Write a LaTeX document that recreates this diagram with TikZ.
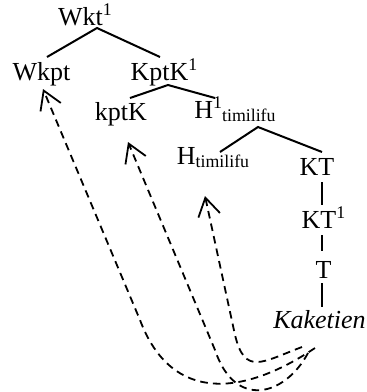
\documentclass[tikz,border=0pt]{standalone}
\usepackage{fontspec}
\setmainfont{Liberation Serif}
\usepackage{tikz}
\usetikzlibrary{arrows.meta}
\newcommand{\sups}[1]{\raisebox{4.9pt}{\fontsize{8.9pt}{10pt}\selectfont #1}}
\newcommand{\subs}[1]{\raisebox{-1.6pt}{\fontsize{8.9pt}{10pt}\selectfont #1}}
\begin{document}
\begin{tikzpicture}[x=0.5pt, y=-0.5pt,
  lbl/.style={inner sep=0pt, anchor=base, font=\fontsize{13pt}{15pt}\selectfont},
  br/.style={line width=1pt},
  mv/.style={line width=0.9pt, dash pattern=on 3.8pt off 2.6pt, -{Straight Barb[length=9pt, width=11pt]}}
]
\useasboundingbox (0,0) rectangle (366,392);
% tree
\node[lbl] (Wkt) at (85,25) {Wkt\sups{1}};
\node[lbl] (Wkpt) at (41.5,80) {Wkpt};
\node[lbl] (KptK) at (164,80) {KptK\sups{1}};
\node[lbl] (kptK) at (121,120) {kptK};
\node[lbl] (Hbar) at (235,118) {H\sups{1}\subs{timilifu}};
\node[lbl] (Hmin) at (213,164) {H\subs{timilifu}};
\node[lbl] (KT) at (317,175) {KT};
\node[lbl] (KTbar) at (323.5,228) {KT\sups{1}};
\node[lbl] (T) at (323.5,278) {T};
\node[lbl] (Kaketien) at (319.5,328) {\textit{Kaketien}};

\draw[br] ([shift={(5.5,-23)}]Wkpt.base) -- ([shift={(12,3)}]Wkt.base) -- ([shift={(-4,-23)}]KptK.base);
\draw[br] ([shift={(9,-22)}]kptK.base) -- ([shift={(4,5)}]KptK.base) -- ([shift={(-20,-20)}]Hbar.base);
\draw[br] ([shift={(7,-12)}]Hmin.base) -- ([shift={(23,9)}]Hbar.base) -- ([shift={(5,-23)}]KT.base);
\draw[br] ([shift={(5,7)}]KT.base) -- ([shift={(-1.5,-23)}]KTbar.base);
\draw[br] ([shift={(-1.5,7)}]KTbar.base) -- ([shift={(-1.5,-27)}]T.base);
\draw[br] ([shift={(-1.5,5)}]T.base) -- ([shift={(2.5,-21)}]Kaketien.base);

% movement
\coordinate (a0) at ([shift={(-4.5,20)}]Kaketien.base);
\coordinate (b0) at ([shift={(-11.5,25)}]Kaketien.base);
\coordinate (c0) at ([shift={(-17.5,19)}]Kaketien.base);
\draw[mv] (a0) .. controls (245,395) and (172,405) .. (140,320) -- ([shift={(1.5,9)}]Wkpt.base);
\draw[mv] (b0) .. controls (285,396) and (235,410) .. (215,350) -- ([shift={(7,22)}]kptK.base);
\draw[mv] (c0) .. controls (262,362) and (245,376) .. (235,335) -- ([shift={(-8,32)}]Hmin.base);
\end{tikzpicture}
\end{document}
